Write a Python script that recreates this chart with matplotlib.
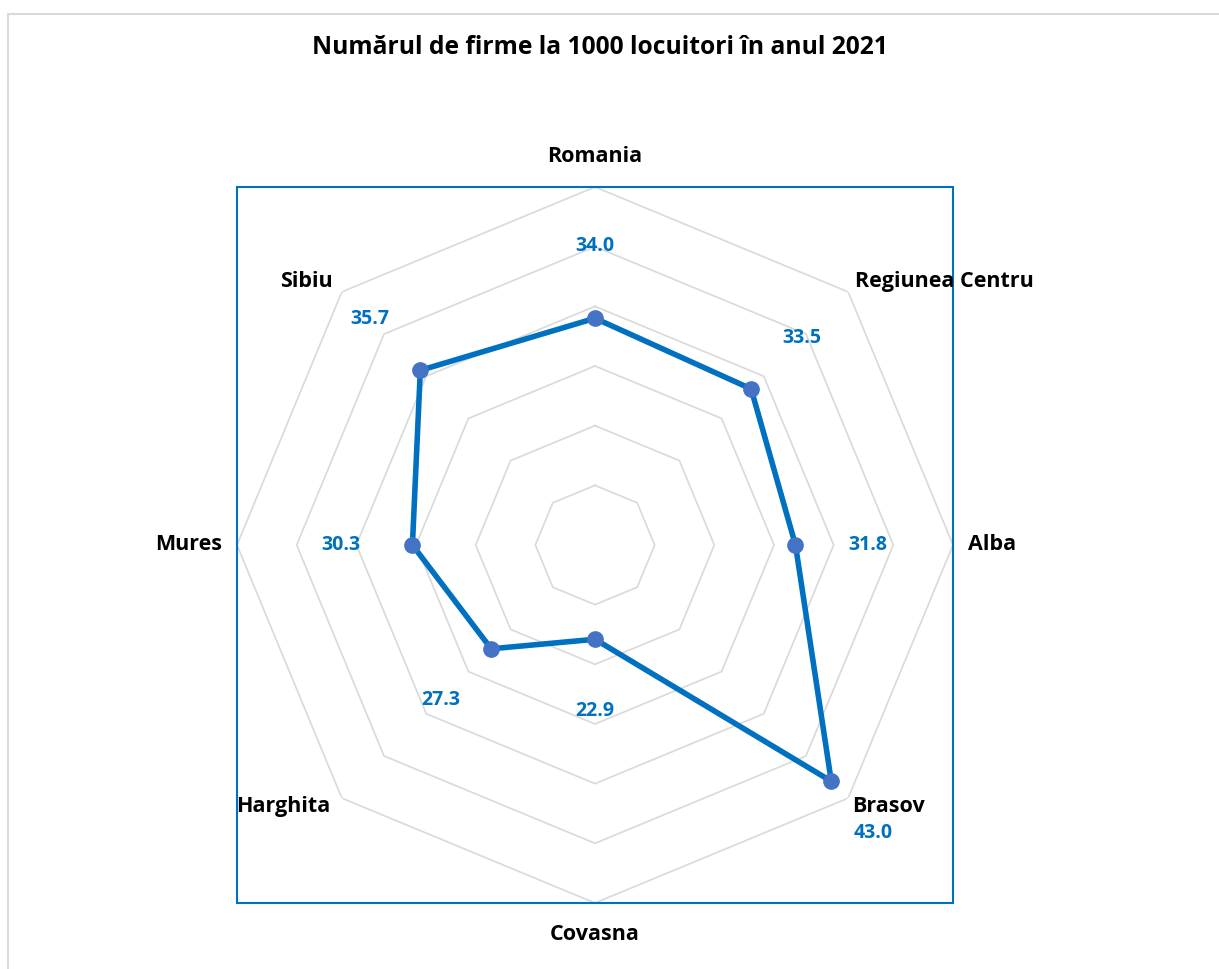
import numpy as np
import matplotlib
matplotlib.use("Agg")
import matplotlib.pyplot as plt
from matplotlib.patches import Rectangle

plt.rcParams['font.family'] = ['Open Sans', 'DejaVu Sans']

categories = ["Romania", "Regiunea Centru", "Alba", "Brasov", "Covasna",
              "Harghita", "Mures", "Sibiu"]
values = [34.0, 33.5, 31.8, 43.0, 22.9, 27.3, 30.3, 35.7]
title = "Numărul de firme la 1000 locuitori în anul 2021"
r_min, r_max, r_step = 15, 45, 5

W, H = 1219, 969
fig = plt.figure(figsize=(W / 100, H / 100), dpi=100)

# outer chart border (light grey)
fig.add_artist(Rectangle((8 / W, -0.1), 1.2, (H - 14) / H + 0.1,
                         transform=fig.transFigure, fill=False,
                         edgecolor="#D9D9D9", linewidth=1.5))

# plot area in pixels
L, T, R, B = 237, 187, 953, 903
ax = fig.add_axes([L / W, (H - B) / H, (R - L) / W, (B - T) / H], projection="polar")
ax.set_theta_zero_location("N")
ax.set_theta_direction(-1)
ax.set_ylim(r_min, r_max)
ax.grid(False)
ax.set_xticks([])
ax.set_yticks([])
ax.spines["polar"].set_visible(False)
ax.patch.set_alpha(0)

n = len(categories)
theta = np.arange(n) * 2 * np.pi / n
theta_c = np.append(theta, theta[0])

# octagonal gridlines
for r in np.arange(r_min + r_step, r_max + 0.1, r_step):
    ax.plot(theta_c, [r] * (n + 1), color="#D9D9D9", linewidth=1.2, zorder=1)

vals_c = np.append(values, values[0])
ax.plot(theta_c, vals_c, color="#0070C0", linewidth=4, zorder=3)
ax.plot(theta, values, "o", color="#4472C4", markersize=11, zorder=4)

# plot-area border
ax.add_artist(Rectangle((0, 0), 1, 1, transform=ax.transAxes, fill=False,
                        edgecolor="#0070C0", linewidth=1.5, clip_on=False))

# data labels
label_off = 72
for t, v in zip(theta, values):
    dx = np.sin(t) * label_off
    dy = np.cos(t) * label_off
    if abs(v - 43.0) < 1e-9:
        dx, dy = 42, -52
    ax.annotate(f"{v:.1f}", xy=(t, v), xytext=(dx, dy), textcoords="offset pixels",
                ha="center", va="center", color="#0070C0", fontsize=14,
                fontweight="bold", zorder=5)

# category labels
cat_pos = {
    "Romania": (0, 31, "center"),
    "Regiunea Centru": (7, 10, "left"),
    "Alba": (15, 0, "left"),
    "Brasov": (4, -8, "left"),
    "Covasna": (0, -32, "center"),
    "Harghita": (-11, -8, "right"),
    "Mures": (-15, 0, "right"),
    "Sibiu": (-9, 10, "right"),
}
for t, c in zip(theta, categories):
    dx, dy, ha = cat_pos[c]
    ax.annotate(c, xy=(t, r_max), xytext=(dx, dy), textcoords="offset pixels",
                ha=ha, va="center", color="black", fontsize=15.5,
                fontweight="bold")

fig.text(600 / W, 1 - 47 / H, title, ha="center", va="center",
         fontsize=17.7, fontweight="bold", color="black")

fig.savefig("out.png", dpi=100, facecolor="white")
